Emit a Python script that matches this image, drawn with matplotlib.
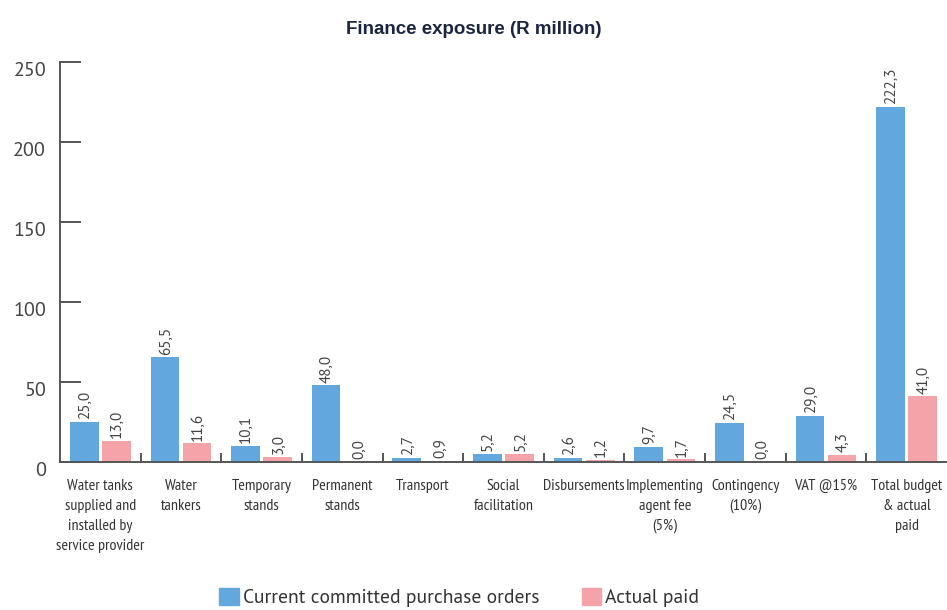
import matplotlib
matplotlib.use("Agg")
import matplotlib.pyplot as plt
import matplotlib.transforms as mtransforms
import numpy as np
from matplotlib.patches import Patch

categories = ["Water tanks\nsupplied and\ninstalled by\nservice provider", "Water\ntankers",
              "Temporary\nstands", "Permanent\nstands", "Transport", "Social\nfacilitation",
              "Disbursements", "Implementing\nagent fee\n(5%)", "Contingency\n(10%)",
              "VAT @15%", "Total budget\n& actual\npaid"]
committed = [25.0, 65.5, 10.1, 48.0, 2.7, 5.2, 2.6, 9.7, 24.5, 29.0, 222.3]
paid = [13.0, 11.6, 3.0, 0.0, 0.9, 5.2, 1.2, 1.7, 0.0, 4.3, 41.0]
yticks = [0, 50, 100, 150, 200, 250]
series_names = ["Current committed purchase orders", "Actual paid"]

NARROW = ["PT Sans Narrow", "DejaVu Sans"]
REG = ["PT Sans", "DejaVu Sans"]
plt.rcParams['font.family'] = NARROW

BLUE = "#62A8DE"
PINK = "#F4A3A8"
AX = "#555555"
TXT = "#333333"

fig = plt.figure(figsize=(9.47, 6.10), dpi=100)
ax = fig.add_axes([0.0634, 0.2426, 0.9366, 0.655])

x = np.arange(len(categories))
w = 0.355
off = 0.2
b1 = ax.bar(x - off, committed, w, color=BLUE)
b2 = ax.bar(x + off, paid, w, color=PINK)

for bars, vals in ((b1, committed), (b2, paid)):
    for r, v in zip(bars, vals):
        ax.annotate(f"{v:.1f}".replace(".", ","),
                    (r.get_x() + r.get_width() / 2, v),
                    xytext=(0.5, 2), textcoords="offset points",
                    rotation=90, ha="center", va="bottom",
                    fontsize=11, color="#444444", family=REG)

ax.set_xlim(-0.5, len(categories) - 0.5)
ax.set_ylim(0, 250)
ax.set_yticks(yticks)
ax.set_yticklabels([str(t) for t in yticks], fontsize=14.5, color="#444444", family=REG)
ax.tick_params(axis="y", direction="in", length=15, width=1.4, color=AX, pad=10)
shift = mtransforms.ScaledTranslation(0, -7 / 100, fig.dpi_scale_trans)
for lab in ax.get_yticklabels():
    lab.set_transform(lab.get_transform() + shift)

ax.set_xticks(x)
ax.set_xticklabels(categories, fontsize=11.5, color=TXT, linespacing=1.55, va="top")
ax.tick_params(axis="x", which="major", length=0, pad=12)
ax.set_xticks(np.arange(0.5, len(categories) - 1, 1.0), minor=True)
ax.tick_params(axis="x", which="minor", direction="in", length=6.5, width=1.4, color=AX)

for s in ("top", "right"):
    ax.spines[s].set_visible(False)
for s in ("left", "bottom"):
    ax.spines[s].set_color(AX)
    ax.spines[s].set_linewidth(1.4)

fig.text(0.5, 0.951, "Finance exposure (R million)", ha="center", va="center",
         fontsize=13.5, fontweight="bold", color="#1c2540", family=["Liberation Sans", "DejaVu Sans"])

handles = [Patch(color=BLUE), Patch(color=PINK)]
fig.legend(handles, series_names, loc="center", bbox_to_anchor=(0.485, 0.021),
           ncol=2, frameon=False, handlelength=1.0, handleheight=1.0,
           handletextpad=0.2, columnspacing=2.2, labelcolor=TXT,
           prop={"family": REG, "size": 14})

fig.savefig("out.png", dpi=100)
